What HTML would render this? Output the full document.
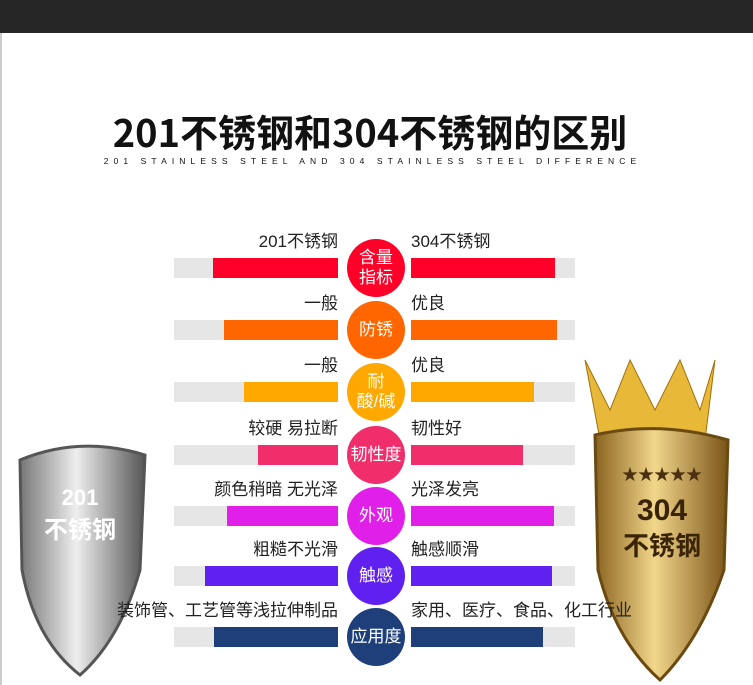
<!DOCTYPE html><html><head><meta charset="utf-8"><style>
body{margin:0;width:753px;height:685px;background:#fff;position:relative;overflow:hidden;font-family:"Liberation Sans","Noto Sans CJK SC",sans-serif}
.a{position:absolute}
.t{position:absolute;font-size:17px;color:#222;line-height:20px;white-space:nowrap}
.bg{position:absolute;background:#e6e6e6;height:20px;width:164px}
.c{position:absolute;width:58px;height:58px;border-radius:50%;color:#fff;font-size:17px;line-height:20px;display:flex;align-items:center;justify-content:center;text-align:center}
</style></head><body>
<div class="a" style="left:0;top:0;width:753px;height:33px;background:#262626"></div>
<div class="a" style="left:0;top:33px;width:2px;height:652px;background:#ccc"></div>
<div class="a" style="left:0;top:107px;width:740px;text-align:center;font-size:38px;font-weight:bold;color:#111;line-height:48px;font-family:'Noto Sans CJK SC',sans-serif">201不锈钢和304不锈钢的区别</div>
<div class="a" style="left:0;top:156px;width:745px;text-align:center;font-size:8.5px;letter-spacing:5.1px;color:#111">201 STAINLESS STEEL AND 304 STAINLESS STEEL DIFFERENCE</div>
<svg class="a" style="left:0;top:340px" width="753" height="345">
<defs><linearGradient id="s" x1="0" x2="1"><stop offset="0" stop-color="#777"/><stop offset=".45" stop-color="#eee"/><stop offset="1" stop-color="#555"/></linearGradient>
<linearGradient id="g" x1="0" x2="1"><stop offset="0" stop-color="#8a6420"/><stop offset=".45" stop-color="#f2d68a"/><stop offset="1" stop-color="#7a5418"/></linearGradient></defs>
<path d="M20 120 Q80 95 145 115 L140 230 Q120 300 80 335 Q35 300 22 230 Z" fill="url(#s)" stroke="#555" stroke-width="3"/>
<text x="80" y="165" font-size="22" fill="#fff" text-anchor="middle" font-weight="bold">201</text>
<text x="80" y="198" font-size="24" fill="#fff" text-anchor="middle" font-weight="bold" font-family="Noto Sans CJK SC">不锈钢</text>
<path d="M585 20 L610 70 L630 20 L655 70 L680 20 L700 70 L715 20 L705 100 L600 100 Z" fill="#e8b838" stroke="#a07010"/>
<path d="M595 95 Q660 80 728 100 L724 230 Q700 300 660 340 Q615 300 598 230 Z" fill="url(#g)" stroke="#6a4a10" stroke-width="3"/>
<text x="662" y="140" font-size="16" fill="#4a3010" text-anchor="middle">★★★★★</text>
<text x="662" y="180" font-size="30" fill="#3a2408" text-anchor="middle" font-weight="bold">304</text>
<text x="662" y="215" font-size="26" fill="#3a2408" text-anchor="middle" font-weight="bold" font-family="Noto Sans CJK SC">不锈钢</text>
</svg>
<div id="rows"></div>
<script>
var R=[["201不锈钢","304不锈钢","含量<br>指标","#ff0028",213,555,268],["一般","优良","防锈","#ff6600",224,557,330],["一般","优良","耐<br>酸/碱","#ffa800",244,534,392],["较硬 易拉断","韧性好","韧性度","#f02e6c",258,523,455],["颜色稍暗 无光泽","光泽发亮","外观","#e020e8",227,554,516],["粗糙不光滑","触感顺滑","触感","#6020f0",205,552,576],["装饰管、工艺管等浅拉伸制品","家用、医疗、食品、化工行业","应用度","#1e3f7a",214,543,637]];
var h="";R.forEach(function(r){var y=r[6];
h+='<div class="bg" style="left:174px;top:'+(y-10)+'px"></div><div class="bg" style="left:411px;top:'+(y-10)+'px"></div>';
h+='<div class="a" style="left:'+r[4]+'px;top:'+(y-10)+'px;width:'+(338-r[4])+'px;height:20px;background:'+r[3]+'"></div>';
h+='<div class="a" style="left:411px;top:'+(y-10)+'px;width:'+(r[5]-411)+'px;height:20px;background:'+r[3]+'"></div>';
h+='<div class="t" style="right:'+(753-338)+'px;top:'+(y-36)+'px">'+r[0]+'</div><div class="t" style="left:411px;top:'+(y-36)+'px">'+r[1]+'</div>';
h+='<div class="c" style="left:347px;top:'+(y-29)+'px;background:'+r[3]+'">'+r[2]+'</div>';});
document.getElementById("rows").innerHTML=h;
</script>
</body></html>
